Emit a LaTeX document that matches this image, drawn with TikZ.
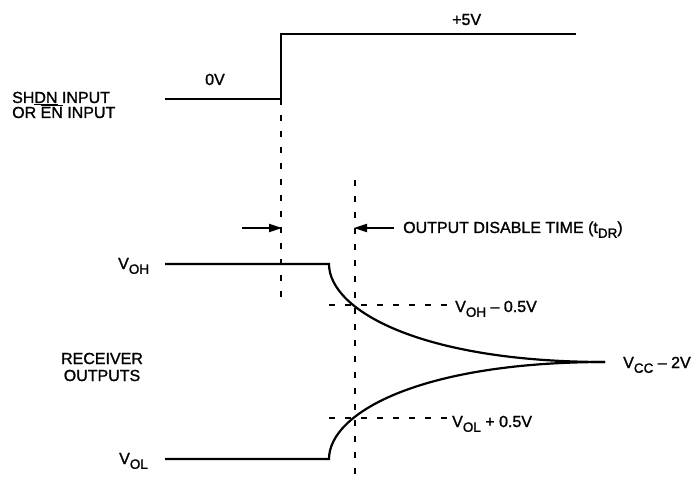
\documentclass[tikz,border=0pt]{standalone}
\usepackage{fontspec}
\setmainfont{Liberation Sans}[BoldFont=Liberation Sans, BoldFeatures={FakeBold=1.3}]
\usetikzlibrary{arrows.meta}
\newcommand{\lsub}[1]{\raisebox{-0.3em}{\fontsize{13.5}{13.5}\selectfont #1}}
\begin{document}
\begin{tikzpicture}[x=1pt,y=-1pt,
  wave/.style={line width=2.2pt},
  guide/.style={line width=1.9pt, dash pattern=on 6pt off 10pt},
  lbl/.style={inner sep=0pt, font=\fontsize{16}{17}\selectfont\bfseries},
  tarrow/.style={line width=1.9pt, -{Triangle[length=13pt,width=8pt]}}]
\useasboundingbox (0,0) rectangle (693,481);
% input step
\coordinate (inA) at (165,99);
\coordinate (inB) at (281,99);
\coordinate (inC) at (281,34);
\coordinate (inD) at (576,34);
\draw[wave] (inA) -- (inB) -- (inC) -- (inD);
% dashed verticals
\coordinate (d1t) at (281,99);
\coordinate (d1b) at (281,305);
\coordinate (d2t) at (355,180);
\coordinate (d2b) at (355,476);
\draw[guide] (d1t) -- (d1b);
\draw[guide] (d2t) -- (d2b);
% receiver output waveforms
\coordinate (ohA) at (165,264);
\coordinate (ohB) at (329,264);
\coordinate (olA) at (165,459);
\coordinate (olB) at (329,459);
\coordinate (fin) at (605,362);
\draw[wave] (ohA) -- (ohB) .. controls (329,310) and (420,362) .. (fin);
\draw[wave] (olA) -- (olB) .. controls (329,413) and (420,362) .. (fin);
% threshold dashed lines
\coordinate (hA) at (329,305);
\coordinate (hB) at (450,305);
\coordinate (lA) at (329,418);
\coordinate (lB) at (450,418);
\draw[guide] (hA) -- (hB);
\draw[guide] (lA) -- (lB);
% arrows
\coordinate (a1s) at (242,228);
\coordinate (a1e) at (282,228);
\coordinate (a2s) at (394,228);
\coordinate (a2e) at (354,228);
\draw[tarrow] (a1s) -- (a1e);
\draw[tarrow] (a2s) -- (a2e);
% labels
\node[lbl, anchor=base west] (shdn) at (12,103) {SH\underline{DN} INPUT};
\node[lbl, anchor=base west] (en) at (12,118) {OR \mbox{$\overline{\mbox{\bfseries EN}}$} INPUT};
\node[lbl, anchor=base west] (zero) at (205,85) {0V};
\node[lbl, anchor=base west] (five) at (452,25) {+5V};
\node[lbl, anchor=base west] (odt) at (403,233) {OUTPUT DISABLE TIME (t\lsub{DR})};
\node[lbl, anchor=base west] (voh) at (118,269) {V\lsub{OH}};
\node[lbl, anchor=base west] (vol) at (119,464) {V\lsub{OL}};
\node[lbl, anchor=base] (rec) at (102,364) {RECEIVER};
\node[lbl, anchor=base] (outs) at (102,381) {OUTPUTS};
\node[lbl, anchor=base west] (vohm) at (455,312) {V\lsub{OH} -- 0.5V};
\node[lbl, anchor=base west] (volp) at (452,427) {V\lsub{OL} + 0.5V};
\node[lbl, anchor=base west] (vcc) at (623,368) {V\lsub{CC} -- 2V};
\end{tikzpicture}
\end{document}
